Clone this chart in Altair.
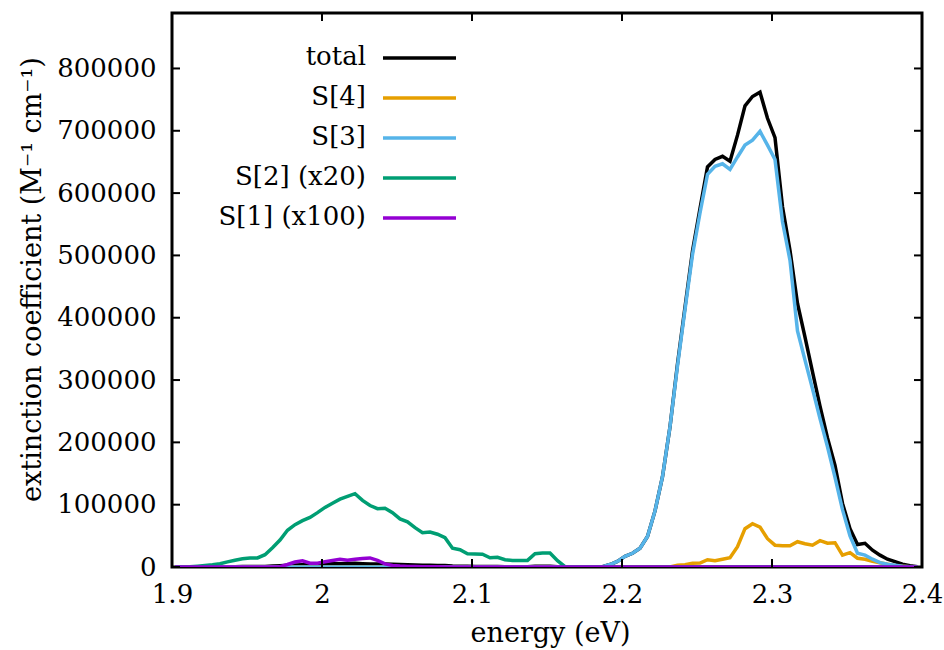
import altair as alt
import pandas as pd

# Energy grid (eV) on which the spectra were sampled
energy = [round(1.902 + 0.005 * k, 3) for k in range(100)]

# Extinction coefficient (M^-1 cm^-1) per contribution
total = [
    0, 0, 0, 0, 100, 200, 300, 400, 500, 700,
    700, 700, 1000, 1500, 2200, 3000, 3400, 3700, 4000, 4400,
    4800, 5100, 5400, 5700, 5900, 5300, 4900, 4700, 4700, 4400,
    3900, 3600, 3200, 2800, 2800, 2600, 2300, 1500, 1400, 1100,
    1000, 1000, 700, 800, 600, 500, 500, 500, 1100, 1100,
    1100, 500, 0, 0, 0, 0, 0, 500, 4000, 9000,
    17000, 22000, 30000, 49000, 90000, 145000, 225000, 326000, 417000, 507000,
    575000, 642000, 654000, 659000, 651000, 693000, 740000, 755000, 762000, 720000,
    689000, 578000, 508000, 423000, 369000, 313000, 258000, 207000, 163000, 102000,
    61500, 36000, 38000, 27000, 19000, 12500, 8500, 4500, 2100, 500,
]
s4 = [0] * 67 + [
    2900, 3700, 6000,
    6400, 11700, 10000, 12500, 15000, 32600, 61500, 69500, 64000, 45400,
    35000, 34000, 34000, 40600, 37400, 35000, 42200, 38200, 39000, 19000,
    23000, 14100, 12500, 9300, 6900, 4500, 2100, 1300, 500, 0,
]
s3 = [0] * 57 + [
    500, 4000, 9000,
    17000, 22000, 30000, 49000, 90000, 145000, 225000, 323000, 413000, 501000,
    568000, 630000, 643000, 647000, 638000, 658000, 677000, 685000, 699000, 677000,
    654000, 554000, 492000, 379000, 332000, 286000, 238000, 193000, 144000, 92000,
    50000, 22000, 19000, 12500, 7000, 4500, 3000, 1300, 500, 0,
]
s2_x20 = [
    0, 0, 300, 1300, 2400, 3700, 5300, 8200, 10900, 13300,
    14400, 14600, 19700, 31000, 43300, 59000, 67900, 74300, 79600, 87200,
    95700, 102400, 108800, 113200, 117600, 106900, 98700, 93600, 94400, 87200,
    77200, 72400, 63100, 55100, 56200, 52600, 47000, 30200, 27800, 21300,
    20900, 20500, 14900, 15700, 11700, 10600, 10600, 10600, 21300, 22500,
    22500, 10100, 500,
] + [0] * 47
s1_x100 = [0] * 14 + [
    500, 4000, 8000, 10000, 6000, 6000,
    8500, 10500, 12500, 11000, 12500, 13500, 14500, 10500, 5000, 2500,
    1500, 1000, 800, 600, 400, 300, 200,
] + [0] * 63

series_names = ["total", "S[4]", "S[3]", "S[2] (x20)", "S[1] (x100)"]
series_values = [total, s4, s3, s2_x20, s1_x100]
series_colors = ["#000000", "#E69F00", "#56B4E9", "#009E73", "#9400D3"]

x_ticks = [1.9, 2.0, 2.1, 2.2, 2.3, 2.4]
y_ticks = [0, 100000, 200000, 300000, 400000, 500000, 600000, 700000, 800000]

W, H = 750, 554
Y_MAX = 889000
FONT = "DejaVu Serif"
FS = 26
TITLE_FS = 27
TICK = 8
LW = 3.5

rows = []
for name, vals in zip(series_names, series_values):
    for e, v in zip(energy, vals):
        rows.append({"energy": e, "value": v, "series": name})
df = pd.DataFrame(rows)

x_scale = alt.Scale(domain=[1.9, 2.4], nice=False, zero=False)
y_scale = alt.Scale(domain=[0, Y_MAX], nice=False)

x_axis = alt.Axis(
    values=x_ticks, format="~g", title="energy (eV)",
    titleX=W / 2 + 3, titleY=66, titleAlign="center", titleBaseline="middle",
    labelPadding=14, labelFlush=False,
)
y_axis = alt.Axis(
    values=y_ticks, format="d", title="extinction coefficient (M\u207b\u00b9 cm\u207b\u00b9)",
    titleAngle=270, titleX=-140, titleY=266, titleAlign="center", titleBaseline="middle",
    labelPadding=16, labelFlush=False,
)

layers = []

# Spectra, drawn in legend order so S[1] ends up on top
for name, col in zip(series_names, series_colors):
    layers.append(
        alt.Chart(df)
        .transform_filter(alt.datum.series == name)
        .mark_line(color=col, strokeWidth=LW, clip=True)
        .encode(
            x=alt.X("energy:Q", scale=x_scale, axis=x_axis),
            y=alt.Y("value:Q", scale=y_scale, axis=y_axis),
        )
    )

# Inward-pointing ticks on all four sides of the frame
ytick_df = pd.DataFrame({"tick": y_ticks})
xtick_df = pd.DataFrame({"tick": x_ticks})
for x0, x1 in [(0, TICK), (W - TICK, W)]:
    layers.append(
        alt.Chart(ytick_df).mark_rule(color="black", strokeWidth=2).encode(
            y=alt.Y("tick:Q", scale=y_scale, axis=y_axis),
            x=alt.value(x0), x2=alt.value(x1),
        )
    )
for y0, y1 in [(H - TICK, H), (0, TICK)]:
    layers.append(
        alt.Chart(xtick_df).mark_rule(color="black", strokeWidth=2).encode(
            x=alt.X("tick:Q", scale=x_scale, axis=x_axis),
            y=alt.value(y0), y2=alt.value(y1),
        )
    )

# Key in the upper left: label, then a line sample to its right
for k, (name, col) in enumerate(zip(series_names, series_colors)):
    row_y = 45 + 40 * k
    key_df = pd.DataFrame({"series": [name]})
    layers.append(
        alt.Chart(key_df).mark_text(
            align="right", baseline="middle", font=FONT, fontSize=FS, color="black", dy=-1
        ).encode(text="series:N", x=alt.value(194), y=alt.value(row_y))
    )
    layers.append(
        alt.Chart(key_df).mark_rule(color=col, strokeWidth=LW).encode(
            x=alt.value(211), x2=alt.value(284), y=alt.value(row_y)
        )
    )

chart = (
    alt.layer(*layers)
    .properties(
        width=W, height=H,
        autosize=alt.AutoSizeParams(type="none"),
        padding={"left": 172, "top": 13, "right": 22, "bottom": 83},
        background="white",
    )
    .configure_view(stroke="black", strokeWidth=3)
    .configure_axis(
        ticks=False, domain=False, grid=False,
        labelFont=FONT, labelFontSize=FS, labelColor="black",
        titleFont=FONT, titleFontSize=TITLE_FS, titleColor="black", titleFontWeight="normal",
    )
)

chart.save("out.html", embed_options={"renderer": "svg", "actions": False})
